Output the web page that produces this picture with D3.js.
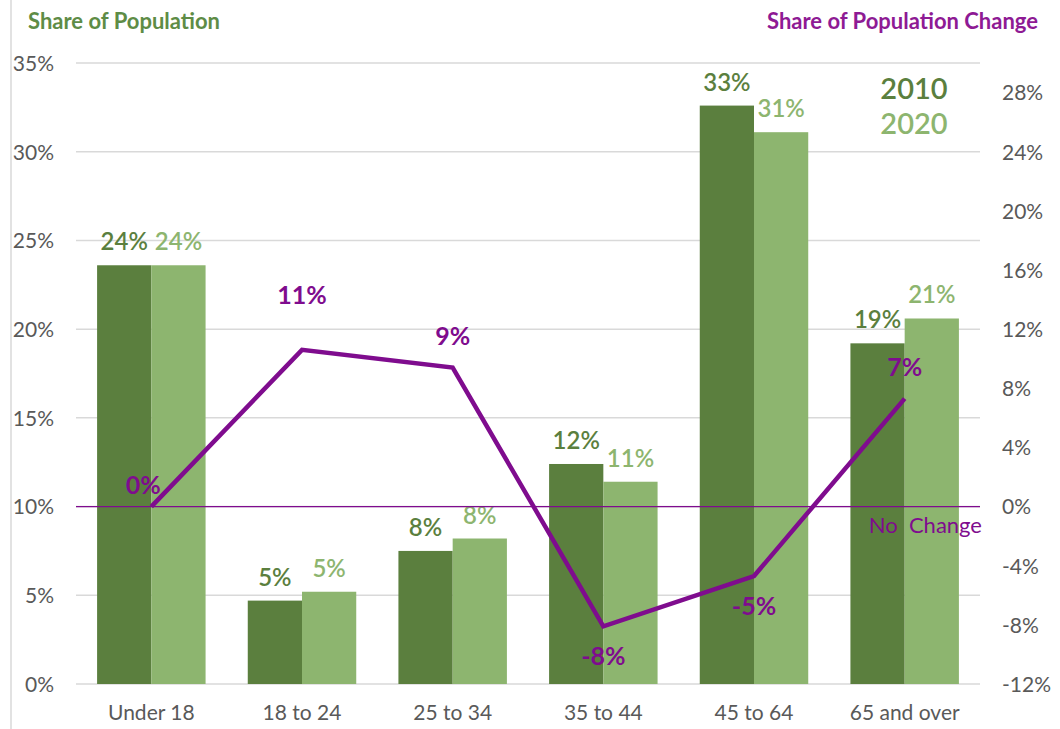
<!DOCTYPE html>
<html>
<head>
<meta charset="utf-8">
<script src="https://cdn.jsdelivr.net/npm/d3@7"></script>
<style>
  body { margin: 0; background: #fff; }
  svg { font-family: Lato, "Open Sans", sans-serif; }
</style>
</head>
<body>
<svg id="chart" width="1060" height="729"></svg>
<script>
// data
const categories = ['Under 18', '18 to 24', '25 to 34', '35 to 44', '45 to 64', '65 and over'];
const share2010 = [23.6, 4.7, 7.5, 12.4, 32.6, 19.2];
const share2020 = [23.6, 5.2, 8.2, 11.4, 31.1, 20.6];
const shareChange = [0.0, 10.6, 9.4, -8.1, -4.7, 7.3];
const leftTicks = [0, 5, 10, 15, 20, 25, 30, 35];
const rightTicks = [-12, -8, -4, 0, 4, 8, 12, 16, 20, 24, 28];
const years = ['2010', '2020'];

const w = 1060, h = 729;
const plotL = 76, plotR = 980, plotT = 63, plotB = 684;
const dark = '#5b7f3e', light = '#8db56f', purple = '#7f0c8e', grey = '#595959';

const svg = d3.select('#chart');

// frame line at the far left
svg.append('line')
  .attr('x1', 11).attr('x2', 11).attr('y1', 0).attr('y2', h)
  .attr('stroke', '#d9d9d9').attr('stroke-width', 1.5);

const x = d3.scaleBand().domain(categories).range([plotL, plotR])
  .paddingInner(0.28).paddingOuter(0.14);
const xSub = d3.scaleBand().domain(years).range([0, x.bandwidth()]);
const yL = d3.scaleLinear().domain([0, 35]).range([plotB, plotT]);
const yR = d3.scaleLinear().domain([-12, 30]).range([plotB, plotT]);

// gridlines
svg.append('g').selectAll('line')
  .data(leftTicks).enter().append('line')
  .attr('x1', plotL).attr('x2', plotR)
  .attr('y1', d => yL(d)).attr('y2', d => yL(d))
  .attr('stroke', '#d9d9d9').attr('stroke-width', 1.5);

// left axis
const axL = svg.append('g').attr('transform', `translate(${plotL - 19},0)`)
  .call(d3.axisLeft(yL).tickValues(leftTicks).tickSize(0).tickFormat(d => d + '%'));
axL.select('.domain').remove();
axL.selectAll('text').attr('fill', grey).attr('font-size', 21).attr('dy', '0.35em')
  .attr('font-family', 'Lato, sans-serif');

// right axis
const axR = svg.append('g').attr('transform', `translate(${plotR + 22},0)`)
  .call(d3.axisRight(yR).tickValues(rightTicks).tickSize(0).tickFormat(d => d + '%'));
axR.select('.domain').remove();
axR.selectAll('text').attr('fill', grey).attr('font-size', 21).attr('dy', '0.35em')
  .attr('x', 0).attr('font-family', 'Lato, sans-serif');

// category axis
const axB = svg.append('g').attr('transform', `translate(0,${plotB})`)
  .call(d3.axisBottom(x).tickSize(0).tickPadding(0));
axB.select('.domain').remove();
axB.selectAll('text').attr('fill', grey).attr('font-size', 21).attr('y', 36).attr('dy', 0)
  .attr('font-family', 'Lato, sans-serif');

// bars
const rows = categories.map((c, i) => ({ c, vals: [share2010[i], share2020[i]] }));
const groups = svg.append('g').selectAll('g')
  .data(rows).enter().append('g')
  .attr('transform', d => `translate(${x(d.c)},0)`);

groups.selectAll('rect')
  .data(d => d.vals.map((v, j) => ({ v, yr: years[j] })))
  .enter().append('rect')
  .attr('x', d => xSub(d.yr))
  .attr('width', xSub.bandwidth())
  .attr('y', d => yL(d.v))
  .attr('height', d => plotB - yL(d.v))
  .attr('fill', d => d.yr === '2010' ? dark : light);

groups.selectAll('text')
  .data(d => d.vals.map((v, j) => ({ v, yr: years[j] })))
  .enter().append('text')
  .attr('x', d => xSub(d.yr) + xSub.bandwidth() / 2)
  .attr('y', d => yL(d.v) - 15)
  .attr('text-anchor', 'middle')
  .attr('font-size', 24).attr('font-weight', 600)
  .attr('fill', d => d.yr === '2010' ? dark : light)
  .text(d => Math.round(d.v) + '%');

// no change reference line
svg.append('line')
  .attr('x1', plotL).attr('x2', plotR)
  .attr('y1', yR(0)).attr('y2', yR(0))
  .attr('stroke', purple).attr('stroke-width', 1.2);
svg.append('text')
  .attr('x', plotR + 2).attr('y', yR(0) + 26)
  .attr('text-anchor', 'end').attr('font-size', 22)
  .attr('fill', purple).style('white-space', 'pre')
  .text('No  Change');

// change line
const cx = c => x(c) + x.bandwidth() / 2;
const line = d3.line().x(d => cx(d.c)).y(d => yR(d.v));
const pts = categories.map((c, i) => ({ c, v: shareChange[i] }));
svg.append('path').datum(pts)
  .attr('d', line)
  .attr('fill', 'none').attr('stroke', purple).attr('stroke-width', 4.5)
  .attr('stroke-linejoin', 'miter');

// labels sit above rising peaks, below dips; the highest point gets extra room
const maxChange = d3.max(shareChange);
svg.append('g').selectAll('text')
  .data(pts).enter().append('text')
  .attr('x', d => cx(d.c) - (d.v === 0 ? 8 : 0))
  .attr('y', d => {
    if (d.v === 0) return yR(d.v) - 13;
    if (d.v === maxChange) return yR(d.v) - 46;
    return d.v > 0 ? yR(d.v) - 23 : yR(d.v) + 39;
  })
  .attr('text-anchor', 'middle')
  .attr('font-size', 25).attr('font-weight', 'bold')
  .attr('fill', purple)
  .text(d => Math.round(d.v) + '%');

// legend
svg.append('g').selectAll('text')
  .data(years).enter().append('text')
  .attr('x', 914).attr('y', (d, i) => 99 + i * 35)
  .attr('text-anchor', 'middle')
  .attr('font-size', 29).attr('font-weight', 600)
  .attr('fill', d => d === '2010' ? dark : light)
  .text(d => d);

// axis titles
svg.append('text')
  .attr('x', 28).attr('y', 29)
  .attr('font-size', 22).attr('font-weight', 'bold')
  .attr('fill', '#5e8c46')
  .text('Share of Population');
svg.append('text')
  .attr('x', 1038).attr('y', 29)
  .attr('text-anchor', 'end')
  .attr('font-size', 22).attr('font-weight', 'bold')
  .attr('fill', '#8e1a94')
  .text('Share of Population Change');
</script>
</body>
</html>
